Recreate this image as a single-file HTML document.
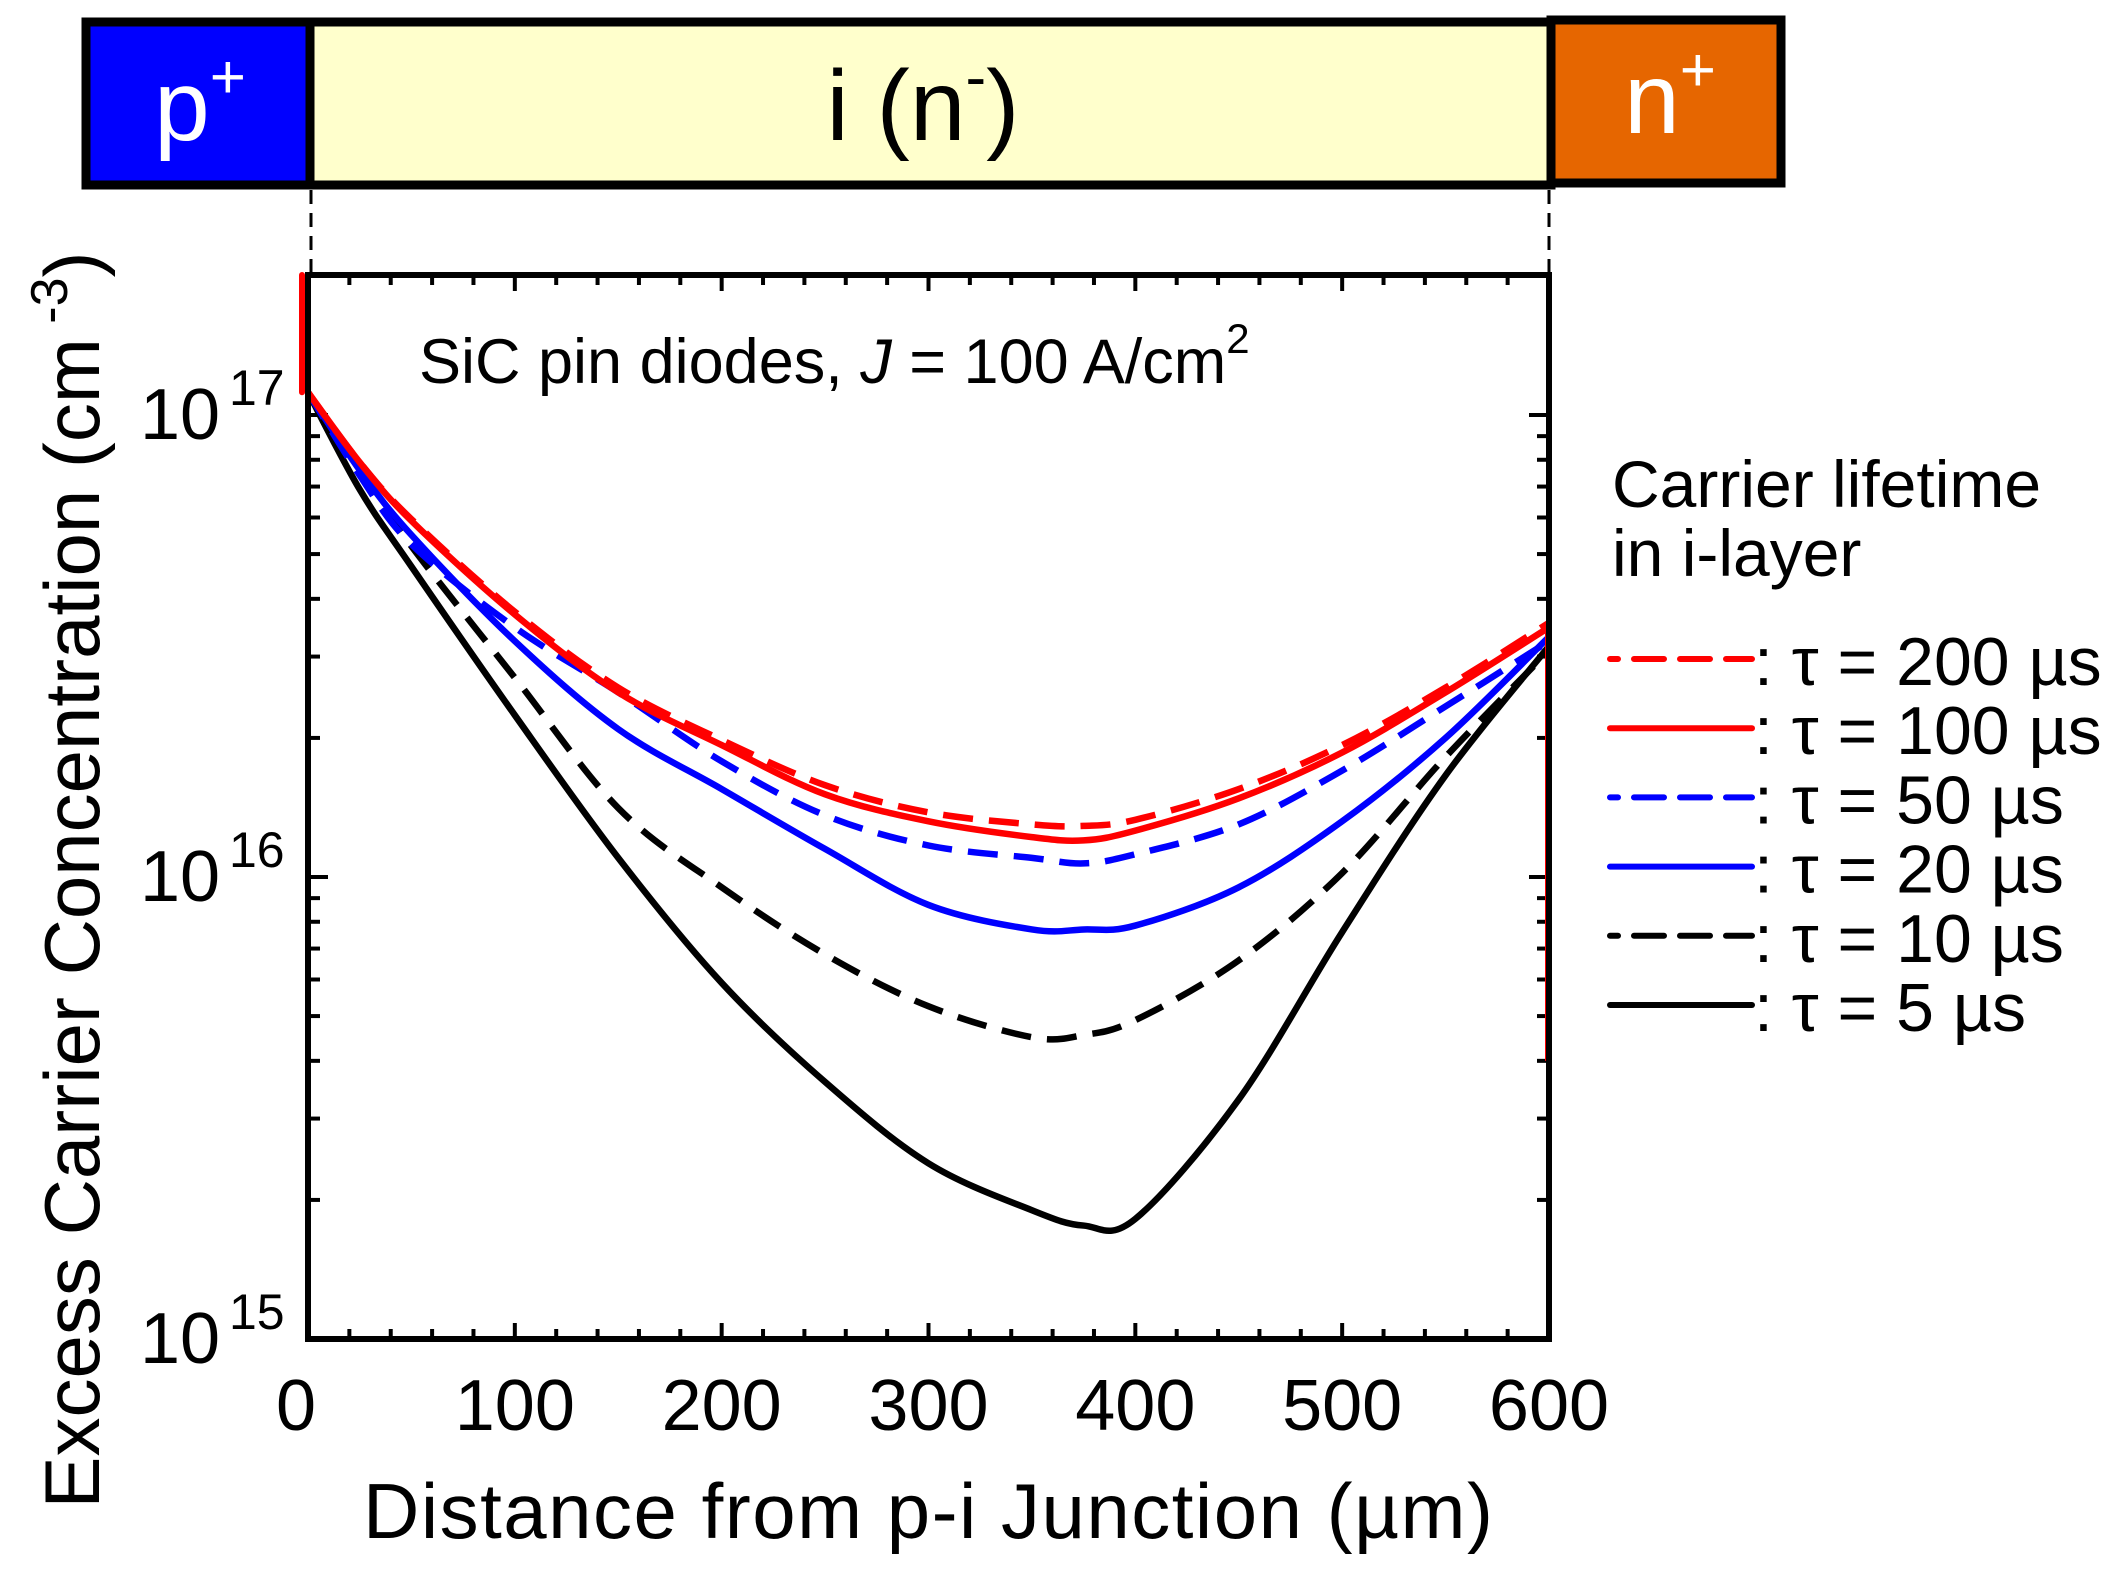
<!DOCTYPE html>
<html><head><meta charset="utf-8"><style>
html,body{margin:0;padding:0;background:#fff;}
svg{display:block;font-family:"Liberation Sans",Arial,sans-serif;}
</style></head><body>
<svg id="chart" width="2121" height="1571" viewBox="0 0 2121 1571" xmlns="http://www.w3.org/2000/svg">
  <g>
    <rect x="86" y="22" width="224" height="163" fill="#0000FF" stroke="#000" stroke-width="9"/>
    <rect x="310" y="22" width="1241" height="163" fill="#FFFFCC" stroke="#000" stroke-width="9"/>
    <rect x="1551" y="20" width="230" height="163" fill="#E66600" stroke="#000" stroke-width="9"/>
    <text x="200" y="140" font-size="100" fill="#fff" text-anchor="middle">p<tspan dy="-42" font-size="62">+</tspan></text>
    <text x="923" y="140" font-size="100" fill="#000" text-anchor="middle">i (n<tspan dy="-42" font-size="62">-</tspan><tspan dy="42">)</tspan></text>
    <text x="1670" y="133" font-size="100" fill="#fff" text-anchor="middle">n<tspan dy="-42" font-size="62">+</tspan></text>
    <line x1="311" y1="190" x2="311" y2="272" stroke="#000" stroke-width="3" stroke-dasharray="14,9"/>
    <line x1="1549" y1="190" x2="1549" y2="272" stroke="#000" stroke-width="3" stroke-dasharray="14,9"/>
  </g>
  <g id="plot"></g>
  <text x="419" y="383" font-size="63">SiC pin diodes, <tspan font-style="italic">J</tspan> = 100 A/cm<tspan dy="-30" font-size="42">2</tspan></text>
  <text x="928" y="1538" font-size="78" text-anchor="middle" textLength="1130">Distance from p-i Junction (µm)</text>
  <text transform="translate(99,880) rotate(-90)" font-size="78" text-anchor="middle">Excess Carrier Concentration (cm<tspan dy="-32" font-size="52"> -3</tspan><tspan dy="32">)</tspan></text>
  <g>
    <text x="1612" y="507" font-size="66">Carrier lifetime</text>
    <text x="1612" y="576" font-size="66">in i-layer</text>
    <g id="legend-entries"></g>
  </g>
</svg>
<script>
// data
const xs = [0,25,50,100,150,200,250,300,350,375,400,450,500,550,600];
const tau200 = [1.12e17,7.9e16,5.95e16,3.75e16,2.57e16,1.98e16,1.58e16,1.38e16,1.30e16,1.29e16,1.33e16,1.55e16,1.93e16,2.57e16,3.55e16];
const tau100 = [1.12e17,7.9e16,5.9e16,3.7e16,2.51e16,1.93e16,1.51e16,1.32e16,1.22e16,1.20e16,1.26e16,1.48e16,1.86e16,2.51e16,3.47e16];
const tau50  = [1.12e17,7.4e16,5.25e16,3.47e16,2.51e16,1.78e16,1.36e16,1.17e16,1.10e16,1.07e16,1.12e16,1.30e16,1.70e16,2.34e16,3.24e16];
const tau20  = [1.12e17,7.6e16,5.5e16,3.24e16,2.09e16,1.55e16,1.15e16,8.7e15,7.7e15,7.7e15,7.85e15,9.5e15,1.32e16,2.0e16,3.31e16];
const tau10  = [1.12e17,7.6e16,5.2e16,2.7e16,1.41e16,9.5e15,6.8e15,5.25e15,4.5e15,4.55e15,4.9e15,6.6e15,1.02e16,1.82e16,3.09e16];
const tau5   = [1.12e17,6.9e16,4.7e16,2.24e16,1.1e16,5.9e15,3.6e15,2.4e15,1.9e15,1.76e15,1.82e15,3.3e15,7.6e15,1.66e16,3.16e16];
const xTickLabels = ["0","100","200","300","400","500","600"];
const yDecades = [15,16,17];
const seriesLabels = ["τ = 200 µs","τ = 100 µs","τ = 50 µs","τ = 20 µs","τ = 10 µs","τ = 5 µs"];

const NS="http://www.w3.org/2000/svg";
const L=308, R=1549, T=275, B=1339;
const X = v => L + (v/600)*(R-L);
const Y = c => B - (Math.log10(c)-15)*462;
const plot=document.getElementById('plot');
function mk(tag,attrs,parent){const e=document.createElementNS(NS,tag);for(const k in attrs)e.setAttribute(k,attrs[k]);(parent||plot).appendChild(e);return e;}

for(let v=0; v<=600; v+=20){
  const major = v%100===0, len = major?16:10;
  const t1=mk('line',{x1:X(v),x2:X(v),y1:B,y2:B-len,stroke:'#000','stroke-width':4});
  
  
  const t2=mk('line',{x1:X(v),x2:X(v),y1:T,y2:T+len,stroke:'#000','stroke-width':4});
  
  
}
xTickLabels.forEach((lab,i)=>{
  const v=+lab;
  const t=mk('text',{x:X(v)-(v===0?12:0),y:1430,'font-size':72,'text-anchor':'middle'});
  t.textContent=lab;
  
  
});
for(let d=15; d<=17; d++){
  for(let m=1; m<=9; m++){
    const c=m*Math.pow(10,d); if(Math.log10(c)>17.31) break;
    const len = m===1?20:12;
    const a=mk('line',{x1:L,x2:L+len,y1:Y(c),y2:Y(c),stroke:'#000','stroke-width':4});
    
    
    const b=mk('line',{x1:R,x2:R-len,y1:Y(c),y2:Y(c),stroke:'#000','stroke-width':4});
    
    
  }
}
yDecades.forEach(d=>{
  const y=Y(Math.pow(10,d));
  const t=mk('text',{x:140,y:y+24,'font-size':72});
  t.textContent='10';
  
  
  const s=mk('text',{x:229,y:y-10,'font-size':50});
  s.textContent=String(d);
  
  
});

const series=[
  {v:tau200,c:'#FF0000',dash:'30,16',name:'series-tau-200'},
  {v:tau100,c:'#FF0000',dash:'',name:'series-tau-100'},
  {v:tau50,c:'#0000FF',dash:'30,16',name:'series-tau-50'},
  {v:tau20,c:'#0000FF',dash:'',name:'series-tau-20'},
  {v:tau10,c:'#000000',dash:'30,16',name:'series-tau-10'},
  {v:tau5,c:'#000000',dash:'',name:'series-tau-5'}
];
function smoothPath(pts){
  let d=`M${pts[0][0]},${pts[0][1]}`;
  for(let i=0;i<pts.length-1;i++){
    const p0=pts[i-1]||pts[i],p1=pts[i],p2=pts[i+1],p3=pts[i+2]||p2;
    const c1=[p1[0]+(p2[0]-p0[0])/6,p1[1]+(p2[1]-p0[1])/6];
    const c2=[p2[0]-(p3[0]-p1[0])/6,p2[1]-(p3[1]-p1[1])/6];
    d+=` C${c1[0]},${c1[1]} ${c2[0]},${c2[1]} ${p2[0]},${p2[1]}`;
  }
  return d;
}
series.slice().reverse().forEach(s=>{
  const pts=xs.map((x,i)=>[X(x),Y(s.v[i])]);
  const attrs={d:smoothPath(pts),fill:'none',stroke:s.c,'stroke-width':6.5,'stroke-linejoin':'round'};
  if(s.dash) attrs['stroke-dasharray']=s.dash;
  const p=mk('path',attrs);
  
  
});
const edge=mk('line',{x1:L-6,x2:L-6,y1:Y(tau100[0]),y2:T,stroke:'#FF0000','stroke-width':6,'stroke-linecap':'round'});


const edge2=mk('line',{x1:R-2,x2:R-2,y1:Y(tau100[14]),y2:Y(4e15),stroke:'#FF0000','stroke-width':4});



const fr=mk('rect',{x:L,y:T,width:R-L,height:B-T,fill:'none',stroke:'#000','stroke-width':6});



const lg=document.getElementById('legend-entries');
series.forEach((s,i)=>{
  const y=659+i*69.2;
  const attrs={x1:1610,x2:1752,y1:y,y2:y,stroke:s.c,'stroke-width':6,'stroke-linecap':'round'};
  if(s.dash){attrs['stroke-dasharray']='30,16';attrs['stroke-dashoffset']='22';}
  const l=mk('line',attrs,lg);
  
  
  const t=mk('text',{x:1754,y:y+26,'font-size':68},lg);
  t.textContent=': '+seriesLabels[i];
  
  
});
</script>
</body></html>
